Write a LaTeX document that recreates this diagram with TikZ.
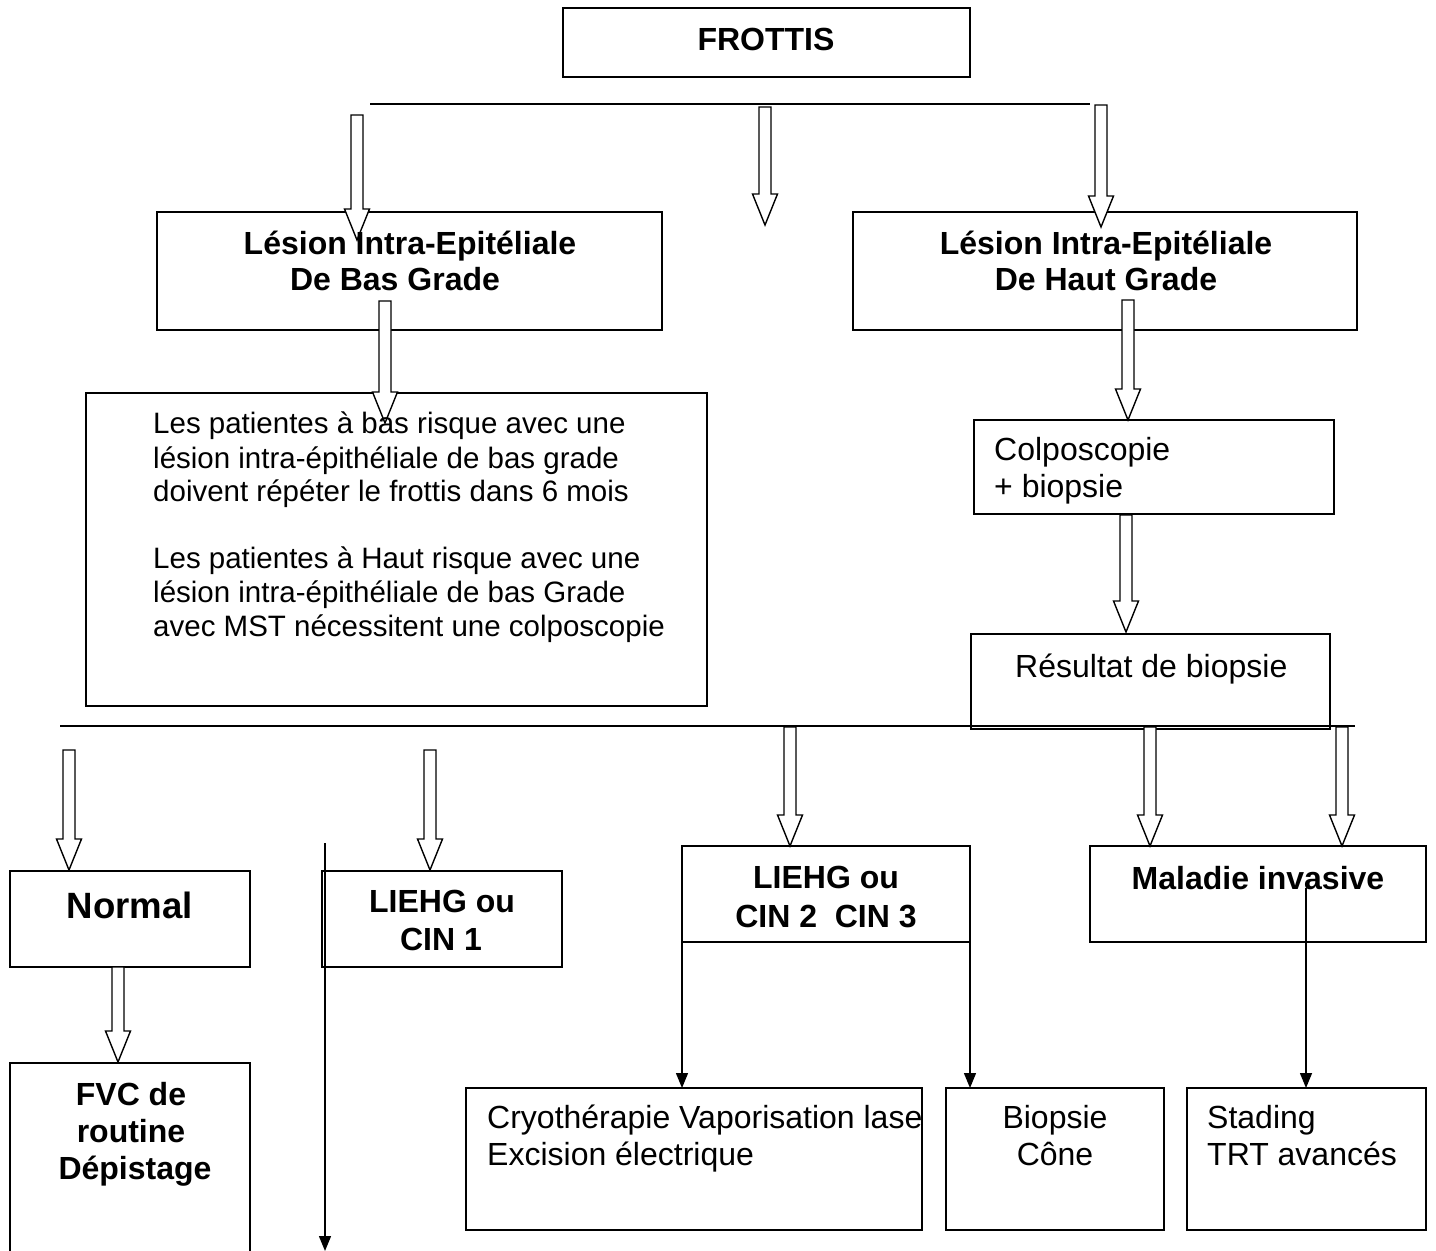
\documentclass[tikz,border=0pt]{standalone}
\usepackage{fontspec}
\setmainfont{Liberation Sans}
\usetikzlibrary{calc,fit,arrows.meta}
\tikzset{
  boxn/.style={draw, line width=1.6pt, inner sep=0pt},
  boxline/.style={draw, line width=1.6pt},
  thinline/.style={draw, line width=1.4pt},
  hollowarr/.style={draw, fill=white, line width=1.4pt, line join=miter},
  thinarr/.style={draw, line width=1.4pt, -{Triangle[length=15pt,width=12pt]}},
  tn/.style={inner sep=0pt, font=\fontsize{32pt}{37pt}\selectfont},
  tb/.style={inner sep=0pt, font=\fontsize{32pt}{37pt}\selectfont\bfseries},
  ts/.style={inner sep=0pt, font=\fontsize{29.5pt}{34pt}\selectfont},
  tbig/.style={inner sep=0pt, font=\fontsize{36.6pt}{42pt}\selectfont\bfseries}
}
\newcommand\blockarr[2]{\draw[hollowarr] let \p1=(#1), \p2=(#2) in
  (\x1-6pt,\y1) -- (\x1+6pt,\y1) -- (\x1+6pt,\y2+31pt) -- (\x1+12.5pt,\y2+31pt)
  -- (\x1,\y2) -- (\x1-12.5pt,\y2+31pt) -- (\x1-6pt,\y2+31pt) -- cycle;}
\begin{document}
\begin{tikzpicture}[x=1pt,y=-1pt]
\useasboundingbox (0,0) rectangle (1436,1251);
% boxes
\node[boxn, fit={(563,8) (970,77)}] (frottis) {};
\node[boxn, fit={(157,212) (662,330)}] (bas) {};
\node[boxn, fit={(853,212) (1357,330)}] (haut) {};
\node[boxn, fit={(86,393) (707,706)}] (lespat) {};
\node[boxn, fit={(974,420) (1334,514)}] (colpo) {};
\node[boxn, fit={(971,634) (1330,729)}] (result) {};
\node[boxn, fit={(10,871) (250,967)}] (normal) {};
\node[boxn, fit={(322,871) (562,967)}] (cinone) {};
\node[boxn, fit={(682,846) (970,942)}] (cintwo) {};
\node[boxn, fit={(1090,846) (1426,942)}] (malad) {};
\node[boxn, fit={(466,1088) (922,1230)}] (cryo) {};
\node[boxn, fit={(946,1088) (1164,1230)}] (biops) {};
\node[boxn, fit={(1187,1088) (1426,1230)}] (stad) {};
\coordinate (fvcTL) at (10,1063);
\coordinate (fvcTR) at (250,1063);
\draw[boxline] (10,1251) -- (fvcTL) -- (fvcTR) -- (250,1251);
% distribution lines
\coordinate (topL) at (370,104);
\coordinate (topR) at (1090,104);
\draw[thinline] (topL) -- (topR);
\coordinate (midL) at (60,726);
\coordinate (midR) at (1355,726);
\draw[thinline] (midL) -- (midR);
% hollow arrows
\coordinate (a1s) at (357,115);  \coordinate (a1e) at (357,240);
\coordinate (a2s) at (765,107);  \coordinate (a2e) at (765,225);
\coordinate (a3s) at (1101,105); \coordinate (a3e) at (1101,227);
\coordinate (a4s) at (385,301);  \coordinate (a4e) at (385,423);
\coordinate (a5s) at (1128,300); \coordinate (a5e) at (1128,420);
\coordinate (a6s) at (1126,515); \coordinate (a6e) at (1126,632);
\coordinate (a7s) at (69,750);   \coordinate (a7e) at (69,870);
\coordinate (a8s) at (430,750);  \coordinate (a8e) at (430,870);
\coordinate (a9s) at (790,727);  \coordinate (a9e) at (790,846);
\coordinate (a10s) at (1150,727); \coordinate (a10e) at (1150,846);
\coordinate (a11s) at (1342,727); \coordinate (a11e) at (1342,846);
\coordinate (a12s) at (118,967); \coordinate (a12e) at (118,1062);
\blockarr{a1s}{a1e}
\blockarr{a2s}{a2e}
\blockarr{a3s}{a3e}
\blockarr{a4s}{a4e}
\blockarr{a5s}{a5e}
\blockarr{a6s}{a6e}
\blockarr{a7s}{a7e}
\blockarr{a8s}{a8e}
\blockarr{a9s}{a9e}
\blockarr{a10s}{a10e}
\blockarr{a11s}{a11e}
\blockarr{a12s}{a12e}
% thin arrows
\coordinate (t1s) at (325,843);  \coordinate (t1e) at (325,1251);
\coordinate (t2s) at (682,942);  \coordinate (t2e) at (682,1088);
\coordinate (t3s) at (970,942);  \coordinate (t3e) at (970,1088);
\coordinate (t4s) at (1306,888); \coordinate (t4e) at (1306,1088);
\draw[thinarr] (t1s) -- (t1e);
\draw[thinarr] (t2s) -- (t2e);
\draw[thinarr] (t3s) -- (t3e);
\draw[thinarr] (t4s) -- (t4e);
% texts
\node[tb, anchor=base] (frottisT) at (766,50) {FROTTIS};
\node[tb, anchor=base] (basT1) at (410,254) {Lésion Intra-Epitéliale};
\node[tb, anchor=base] (basT2) at (395,290) {De Bas Grade};
\node[tb, anchor=base] (hautT1) at (1106,254) {Lésion Intra-Epitéliale};
\node[tb, anchor=base] (hautT2) at (1106,290) {De Haut Grade};
\node[ts, anchor=base west] (lp1) at (153,433) {Les patientes à bas risque avec une};
\node[ts, anchor=base west] (lp2) at (153,468) {lésion intra-épithéliale de bas grade};
\node[ts, anchor=base west] (lp3) at (153,501) {doivent répéter le frottis dans 6 mois};
\node[ts, anchor=base west] (lp4) at (153,568) {Les patientes à Haut risque avec une};
\node[ts, anchor=base west] (lp5) at (153,602) {lésion intra-épithéliale de bas Grade};
\node[ts, anchor=base west] (lp6) at (153,636) {avec MST nécessitent une colposcopie};
\node[tn, anchor=base west] (colT1) at (994,460) {Colposcopie};
\node[tn, anchor=base west] (colT2) at (994,497) {+ biopsie};
\node[tn, anchor=base west] (resT) at (1015,677) {Résultat de biopsie};
\node[tbig, anchor=base] (normT) at (130,918) {Normal};
\node[tb, anchor=base] (c1T1) at (442,912) {LIEHG ou};
\node[tb, anchor=base] (c1T2) at (441,950) {CIN 1};
\node[tb, anchor=base] (c2T1) at (826,888) {LIEHG ou};
\node[tb, anchor=base] (c2T2) at (826,927) {CIN 2\ \ CIN 3};
\node[tb, anchor=base] (malT) at (1258,889) {Maladie invasive};
\node[tb, anchor=base] (fvcT1) at (131,1105) {FVC de};
\node[tb, anchor=base] (fvcT2) at (131,1142) {routine};
\node[tb, anchor=base] (fvcT3) at (135,1179) {Dépistage};
\node[tn, anchor=base west] (cryT1) at (487,1128) {Cryothérapie Vaporisation lase};
\node[tn, anchor=base west] (cryT2) at (487,1165) {Excision électrique};
\node[tn, anchor=base] (bioT1) at (1055,1128) {Biopsie};
\node[tn, anchor=base] (bioT2) at (1055,1165) {Cône};
\node[tn, anchor=base west] (staT1) at (1207,1128) {Stading};
\node[tn, anchor=base west] (staT2) at (1207,1165) {TRT avancés};
\end{tikzpicture}
\end{document}
